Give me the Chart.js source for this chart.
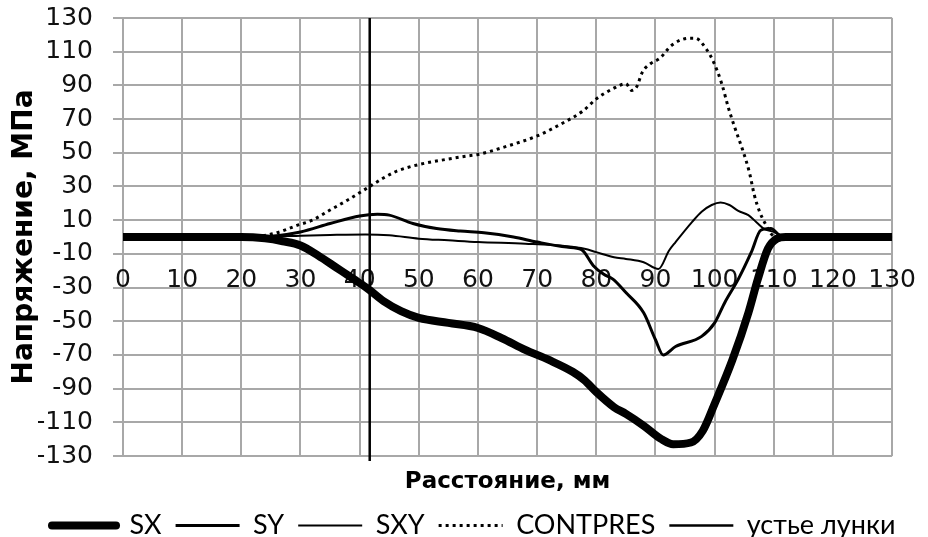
<!DOCTYPE html>
<html><head><meta charset="utf-8">
<script src="https://cdn.jsdelivr.net/npm/chart.js@4"></script>
<style>html,body{margin:0;padding:0;background:#fff}</style>
</head><body>
<canvas id="c" width="928" height="537"></canvas>
<script>
// ---- data ----
const sxDist = [0, 20, 24, 27, 30, 33, 36, 39, 41.5, 44, 47, 50, 55, 60, 64, 68, 72, 76, 78, 80, 83, 85, 88, 91, 93, 96, 98, 100, 103, 105.7, 107.3, 109, 110.5, 112, 130];
const sxVal  = [0, 0, -0.8, -2.5, -5, -11, -18, -25, -31, -38, -44, -48, -51, -54, -60, -67, -73, -80, -85, -92, -101, -105, -112, -120, -123, -122, -115, -99, -73, -45, -25, -7, -1, 0, 0];

const syDist = [0, 20, 25, 30, 35, 40, 43, 45, 49, 53, 57, 61, 66, 70, 75, 77.5, 79.5, 81.2, 82.8, 85, 88, 90, 91.3, 93.4, 97.8, 100, 101.7, 104, 106.2, 107.8, 109.5, 111, 113, 130];
const syVal  = [0, 0, 0.5, 3, 8, 12.5, 13.5, 13, 8, 5, 3.5, 2.5, 0, -3, -6, -7.5, -17, -22, -25, -33, -45, -61, -70, -65, -59, -51, -39, -25, -9, 4, 5, 1, 0, 0];

const sxyDist = [0, 25, 30, 35, 41, 45, 50, 55, 60, 68, 75, 78, 80, 83, 85, 88, 90.5, 92.3, 93.4, 96.2, 97.8, 99.5, 101, 102.5, 104, 105.7, 107.3, 108.3, 110, 111.5, 113, 130];
const sxyVal  = [0, 0.3, 0.8, 1.2, 1.5, 1, -1, -2, -3, -4, -5.5, -7, -9, -12, -13, -15, -19, -8, -3, 9, 15, 19, 20.5, 19, 15.5, 13, 8, 5, 3, 0.5, 0, 0];

const cpDist = [0, 20, 23, 26, 29.5, 32, 35, 38, 41.7, 44, 46.2, 50, 54.5, 58, 60, 65, 70, 74, 77.8, 80, 82.8, 85, 86, 86.8, 87.8, 89.2, 90.7, 92.8, 95.7, 96.7, 98.7, 99.8, 101.2, 102.3, 103.4, 104.8, 105.9, 106.7, 107.6, 108.7, 109.8, 111, 130];
const cpVal  = [0, 0, 0.5, 2.5, 7, 10, 16, 22, 30, 35, 39, 43, 46, 48, 49, 54, 60, 67, 75, 82, 88, 91, 87, 89, 98, 103, 106, 114, 118, 118, 111, 104, 91, 77, 65, 51, 38, 25, 15, 7, 1, 0, 0];

const mouthDist = [41.7, 41.7];
const mouthVal  = [130, -133];

const seriesNames = ['SX', 'SY', 'SXY', 'CONTPRES', 'устье лунки'];
const xTicks = [0, 10, 20, 30, 40, 50, 60, 70, 80, 90, 100, 110, 120, 130];
const yTicks = [-130, -110, -90, -70, -50, -30, -10, 10, 30, 50, 70, 90, 110, 130];
const xTitle = 'Расстояние, мм';
const yTitle = 'Напряжение, МПа';

// ---- build chart ----
function pts(xs, ys) { return xs.map((x, i) => ({ x: x, y: ys[i] })); }

const tickFont = { family: "'DejaVu Sans', sans-serif", size: 25 };
const legendFont = { family: "Lato, 'Liberation Sans', sans-serif", size: 27 };
const gridColor = '#a8a8a8';

new Chart(document.getElementById('c'), {
  type: 'line',
  data: {
    datasets: [
      { label: seriesNames[0], data: pts(sxDist, sxVal), borderColor: '#000', backgroundColor: '#000', borderWidth: 8, pointRadius: 0, cubicInterpolationMode: 'monotone' },
      { label: seriesNames[1], data: pts(syDist, syVal), borderColor: '#000', backgroundColor: '#000', borderWidth: 3, pointRadius: 0, cubicInterpolationMode: 'monotone' },
      { label: seriesNames[2], data: pts(sxyDist, sxyVal), borderColor: '#000', backgroundColor: '#000', borderWidth: 2, pointRadius: 0, cubicInterpolationMode: 'monotone' },
      { label: seriesNames[3], data: pts(cpDist, cpVal), borderColor: '#000', backgroundColor: '#000', borderWidth: 3, borderDash: [3, 4], pointRadius: 0, cubicInterpolationMode: 'monotone' },
      { label: seriesNames[4], data: pts(mouthDist, mouthVal), borderColor: '#000', backgroundColor: '#000', borderWidth: 2.5, pointRadius: 0, tension: 0, clip: false }
    ]
  },
  options: {
    responsive: false,
    animation: false,
    devicePixelRatio: 1,
    layout: { padding: { left: 38, right: 0, top: 18, bottom: -12 } },
    plugins: {
      tooltip: { enabled: false },
      legend: {
        position: 'bottom',
        align: 'start',
        labels: {
          usePointStyle: true,
          pointStyle: 'line',
          pointStyleWidth: 64,
          padding: 14,
          color: '#000',
          font: legendFont,
          generateLabels: (chart) => {
            const items = Chart.defaults.plugins.legend.labels.generateLabels(chart);
            items.forEach((it) => {
              const ds = chart.data.datasets[it.datasetIndex];
              it.lineDash = ds.borderDash || [];
              it.lineWidth = ds.borderWidth;
              it.strokeStyle = '#000';
              it.fillStyle = '#000';
              it.pointStyle = 'line';
              it.lineCap = ds.borderWidth > 5 ? 'round' : 'butt';
            });
            return items;
          }
        }
      }
    },
    scales: {
      x: {
        type: 'linear',
        min: 0, max: 130,
        afterBuildTicks: (s) => { s.ticks = xTicks.map(v => ({ value: v })); },
        ticks: { display: false },
        grid: { color: gridColor, lineWidth: 2, drawTicks: false },
        border: { display: false },
        title: { display: true, text: xTitle, color: '#000', font: { family: "'DejaVu Sans', sans-serif", size: 23, weight: 'bold' }, padding: { top: 12.7, bottom: 1.7 } }
      },
      xl: {
        type: 'linear',
        axis: 'x',
        position: { y: -10 },
        min: 0, max: 130,
        afterBuildTicks: (s) => { s.ticks = xTicks.map(v => ({ value: v })); },
        ticks: { autoSkip: false, maxRotation: 0, padding: 12, color: '#111', font: tickFont },
        grid: { display: false, drawTicks: false },
        border: { display: false }
      },
      y: {
        type: 'linear',
        min: -130, max: 130,
        afterBuildTicks: (s) => { s.ticks = yTicks.map(v => ({ value: v })); },
        afterFit: (s) => { s.width = 85; s.paddingTop = 0; s.paddingBottom = 0; },
        ticks: { autoSkip: false, padding: 20, color: '#111', font: tickFont },
        grid: { color: gridColor, lineWidth: 2, drawTicks: true, tickLength: 10 },
        border: { display: false },
        title: { display: true, text: yTitle, color: '#000', font: { family: "'DejaVu Sans', sans-serif", size: 28, weight: 'bold' }, padding: { top: -29.8, bottom: 0 } }
      },
      yr: {
        type: 'linear',
        axis: 'y',
        position: 'right',
        min: -130, max: 130,
        afterFit: (s) => { s.width = 25; },
        ticks: { display: false },
        grid: { display: false, drawTicks: false },
        border: { display: false }
      }
    }
  }
});
</script>
</body></html>
